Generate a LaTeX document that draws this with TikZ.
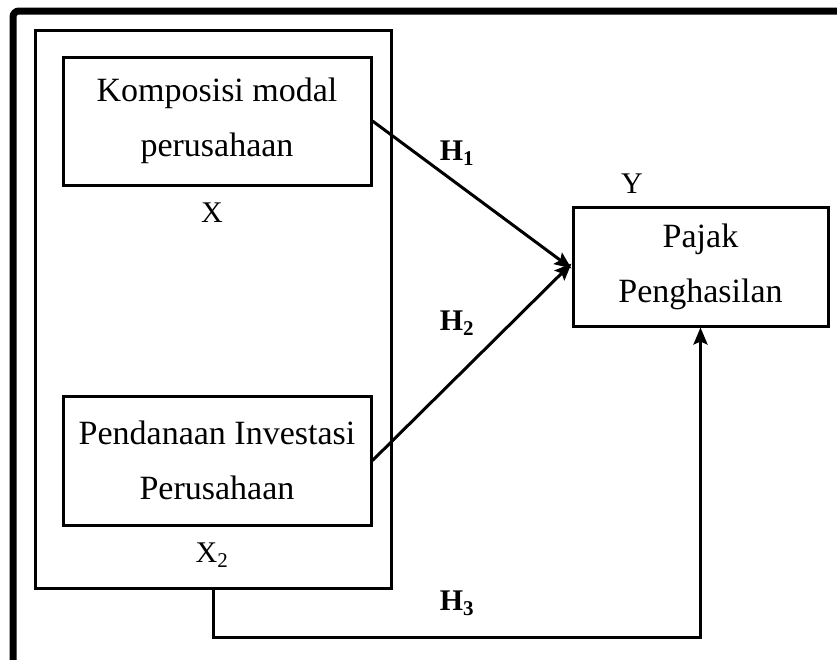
\documentclass[tikz,border=0pt]{standalone}
\usepackage{fontspec}
\setmainfont{Liberation Serif}
\usetikzlibrary{arrows.meta, positioning}

\begin{document}
\begin{tikzpicture}[x=1pt, y=-1pt,
  varbox/.style={draw=black, line width=3pt, align=center, inner sep=0pt,
    font=\fontsize{34}{55}\selectfont},
  hlabel/.style={font=\fontsize{30}{34}\selectfont\bfseries},
  plain/.style={font=\fontsize{30}{34}\selectfont},
  arr/.style={line width=3pt, -{Stealth[length=17pt, width=14pt, inset=3pt]}}]
  \useasboundingbox (0,0) rectangle (837,659);
  \clip (0,0) rectangle (837,659);
  \draw[line width=7pt, rounded corners=6pt] (13,11) rectangle (860,690);

  \node[varbox, minimum width=356pt, minimum height=558pt] (grp) at (213,309) {};
  \node[varbox, minimum width=308pt, minimum height=128pt] (kmp) at (217,121)
    {Komposisi modal\\perusahaan};
  \node[varbox, minimum width=308pt, minimum height=129pt] (pdn) at (217,460.5)
    {Pendanaan Investasi\\Perusahaan};
  \node[varbox, minimum width=255pt, minimum height=119pt] (pjk) at (700.5,266.5)
    {Pajak\\Penghasilan};

  \node[plain] (x1) at (212,213) {X};
  \node[plain] (x2) at (212,555) {X\textsubscript{2}};
  \node[plain] (y) at (632,184) {Y};

  \draw[arr] (kmp.east) -- ([yshift=-2pt]pjk.west);
  \draw[arr] (pdn.east) -- ([yshift=3pt]pjk.west);
  \draw[arr] (grp.south) -- ++(0,48) -| (pjk.south);

  \node[hlabel] (h1) at (457,153) {H\textsubscript{1}};
  \node[hlabel] (h2) at (457,323) {H\textsubscript{2}};
  \node[hlabel] (h3) at (457,603) {H\textsubscript{3}};
\end{tikzpicture}
\end{document}
